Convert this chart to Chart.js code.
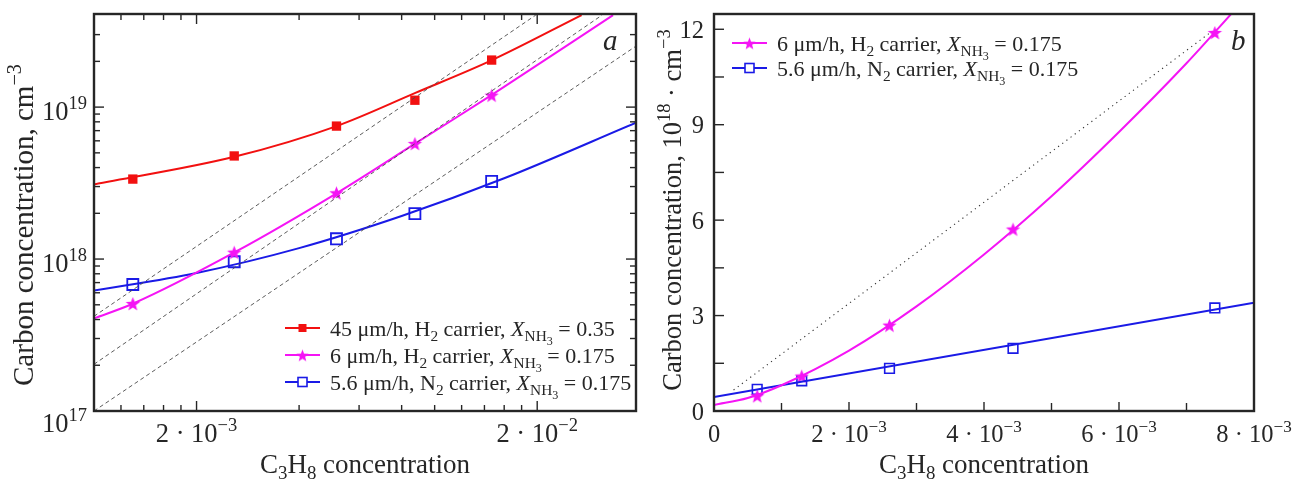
<!DOCTYPE html>
<html>
<head>
<meta charset="utf-8">
<script src="https://cdn.jsdelivr.net/npm/chart.js@4.4.1/dist/chart.umd.min.js"></script>
<style>
  html, body { margin: 0; padding: 0; background: #fff; }
  #wrap { display: flex; width: 1300px; height: 480px; }
  canvas { display: block; }
</style>
</head>
<body>
<div id="wrap">
  <canvas id="chartA" width="650" height="480"></canvas>
  <canvas id="chartB" width="650" height="480"></canvas>
</div>
<script>
// ---------- panel a (log-log) ----------
const aConc = [1.3e-3, 2.58e-3, 5.15e-3, 8.75e-3, 1.47e-2];
const aRed = [3.36e18, 4.77e18, 7.5e18, 1.11e19, 2.04e19];
const aMagenta = [5.1e17, 1.11e18, 2.73e18, 5.77e18, 1.2e19];
const aBlue = [6.8e17, 9.6e17, 1.36e18, 1.99e18, 3.24e18];

// fit curves
const aRedFitX = [1.0e-3, 2.58e-3, 5.18e-3, 8.78e-3, 1.468e-2, 2.7e-2];
const aRedFitY = [3.1e18, 4.71e18, 7.53e18, 1.24e19, 2.03e19, 4.03e19];
const aMagFitX = [1.0e-3, 1.3e-3, 2.59e-3, 5.18e-3, 8.78e-3, 1.468e-2, 3.34e-2];
const aMagFitY = [4.07e17, 5.08e17, 1.11e18, 2.73e18, 5.77e18, 1.2e19, 4.03e19];
const aBlueFitX = [1e-3, 2e-3, 4e-3, 8e-3, 1.6e-2, 3.9e-2];
const aBlueFitY = [6.2e17, 8.1e17, 1.18e18, 1.92e18, 3.4e18, 7.9e18];

// dashed guide lines
const aGuideX = [[1e-3, 1.98e-2], [1e-3, 3.1e-2], [1e-3, 3.9e-2]];
const aGuideY = [[4.2e17, 4.03e19], [2.03e17, 4.03e19], [1e17, 2.52e19]];

const aXMajor = [2e-3, 2e-2];
const aXMinor = [1.2e-3, 1.4e-3, 1.6e-3, 1.8e-3, 4e-3, 6e-3, 8e-3, 1e-2, 1.2e-2, 1.4e-2, 1.6e-2, 1.8e-2];
const aXLabels = [['2 · 10', '−3'], ['2 · 10', '−2']];
const aYMajor = [1e17, 1e18, 1e19];
const aYMinor = [2e17, 3e17, 4e17, 5e17, 6e17, 7e17, 8e17, 9e17,
                 2e18, 3e18, 4e18, 5e18, 6e18, 7e18, 8e18, 9e18, 2e19, 3e19];
const aYLabels = [['10', '17'], ['10', '18'], ['10', '19']];

// ---------- panel b (linear) ----------
const bConc = [0.64e-3, 1.30e-3, 2.60e-3, 4.43e-3, 7.42e-3];
const bMagenta = [0.48, 1.10, 2.70, 5.72, 11.9];
const bBlue = [0.68, 0.95, 1.34, 1.97, 3.24];

const bMagFitX = [0, 0.5e-3, 1e-3, 2e-3, 3e-3, 4e-3, 5e-3, 6e-3, 7e-3, 7.7e-3];
const bMagFitY = [0.19, 0.41, 0.81, 1.9, 3.29, 4.92, 6.75, 8.77, 10.93, 12.57];
const bBlueFitX = [0, 8e-3];
const bBlueFitY = [0.44, 3.4];
const bGuideX = [0.29e-3, 7.33e-3];
const bGuideY = [0.66, 11.86];

const bXMajor = [0, 2e-3, 4e-3, 6e-3, 8e-3];
const bXMinor = [1e-3, 3e-3, 5e-3, 7e-3];
const bXLabels = [['0', ''], ['2 · 10', '−3'], ['4 · 10', '−3'], ['6 · 10', '−3'], ['8 · 10', '−3']];
const bYMajor = [0, 3, 6, 9, 12];
const bYMinor = [1.5, 4.5, 7.5, 10.5];
const bYLabels = ['0', '3', '6', '9', '12'];

// ---------- styling ----------
const INK = '#262626';
const SERIF = '"Liberation Serif", "Times New Roman", Times, serif';
const RED = '#f21010';
const MAGENTA = '#f514f5';
const BLUE = '#1a1ae6';

function pts(xs, ys) {
    return xs.map((x, i) => ({ x: x, y: ys[i] }));
}

function starImage(r, color) {
    const n = Math.ceil(r * 2) + 2;
    const c = document.createElement('canvas');
    c.width = n; c.height = n;
    const g = c.getContext('2d');
    g.fillStyle = color;
    g.beginPath();
    for (let i = 0; i < 10; i++) {
        const rr = i % 2 ? r * 0.42 : r;
        const ang = -Math.PI / 2 + i * Math.PI / 5;
        g.lineTo(n / 2 + rr * Math.cos(ang), n / 2 + 0.9 + rr * Math.sin(ang));
    }
    g.closePath();
    g.fill();
    return c;
}
const starPlot = starImage(7.5, MAGENTA);
const starLegend = starImage(6.5, MAGENTA);

// rich text: [text, kind] where kind is '', 'i', 'sub', 'sup', 'sub2'
const KINDS = {
    '': [1, 0, false],
    i: [1, 0, true],
    sub: [0.7, 0.24, false],
    sup: [0.7, -0.42, false],
    sub2: [0.55, 0.45, false]
};
function setFont(ctx, kind, size) {
    const k = KINDS[kind];
    ctx.font = (k[2] ? 'italic ' : '') + (size * k[0]) + 'px ' + SERIF;
    return k;
}
function drawRich(ctx, parts, x, y, size, align) {
    let w = 0;
    parts.forEach(([t, kind]) => { setFont(ctx, kind, size); w += ctx.measureText(t).width; });
    let cx = align === 'center' ? x - w / 2 : (align === 'right' ? x - w : x);
    ctx.textAlign = 'left';
    ctx.textBaseline = 'alphabetic';
    parts.forEach(([t, kind]) => {
        const k = setFont(ctx, kind, size);
        ctx.fillText(t, cx, y + k[1] * size);
        cx += ctx.measureText(t).width;
    });
}

function drawMarker(ctx, type, x, y) {
    if (type === 'fill') {
        ctx.fillStyle = RED;
        ctx.fillRect(x - 4, y - 4, 8, 8);
    } else if (type === 'star') {
        ctx.drawImage(starLegend, x - starLegend.width / 2, y - starLegend.height / 2);
    } else {
        ctx.fillStyle = '#fff';
        ctx.fillRect(x - 4.5, y - 4.5, 9, 9);
        ctx.strokeStyle = BLUE;
        ctx.lineWidth = 1.6;
        ctx.strokeRect(x - 4.5, y - 4.5, 9, 9);
    }
}

// frame, inward ticks, labels, titles and legend
function decorations(spec) {
    return {
        id: 'decorations',
        afterDatasetsDraw(chart) {
            const { ctx, chartArea: a } = chart;
            const xs = chart.scales.x, ys = chart.scales.y;
            ctx.save();
            ctx.setLineDash([]);
            ctx.strokeStyle = INK;
            ctx.lineWidth = 1.4;
            const seg = (x1, y1, x2, y2) => {
                ctx.beginPath(); ctx.moveTo(x1, y1); ctx.lineTo(x2, y2); ctx.stroke();
            };
            spec.xTicks.forEach(([v, len]) => {
                const px = xs.getPixelForValue(v);
                seg(px, a.bottom, px, a.bottom - len);
                if (spec.mirror) seg(px, a.top, px, a.top + len);
            });
            spec.yTicks.forEach(([v, len]) => {
                const py = ys.getPixelForValue(v);
                seg(a.left, py, a.left + len, py);
                if (spec.mirror) seg(a.right, py, a.right - len, py);
            });
            ctx.lineWidth = 2.4;
            ctx.strokeRect(a.left, a.top, a.right - a.left, a.bottom - a.top);

            ctx.fillStyle = INK;
            spec.xLabels.forEach(([v, parts]) => {
                drawRich(ctx, parts, xs.getPixelForValue(v), a.bottom + 31, spec.tickSize, 'center');
            });
            spec.yLabels.forEach(([v, parts, dy]) => {
                drawRich(ctx, parts, a.left - spec.yGap, ys.getPixelForValue(v) + dy, spec.tickSize, 'right');
            });
            drawRich(ctx, spec.xTitle, (a.left + a.right) / 2, a.bottom + 62, spec.xTitleSize, 'center');
            ctx.save();
            ctx.translate(spec.yTitleX, spec.yTitleY);
            ctx.rotate(-Math.PI / 2);
            drawRich(ctx, spec.yTitle, 0, 0, spec.yTitleSize, 'center');
            ctx.restore();

            ctx.font = 'italic 29px ' + SERIF;
            ctx.fillText(spec.letter, a.right - spec.letterDx, a.top + 36);

            spec.legend.forEach((item, i) => {
                const y = spec.legendY + i * spec.legendDy;
                ctx.strokeStyle = item.color;
                ctx.lineWidth = 2;
                seg(spec.legendX, y, spec.legendX + 35, y);
                drawMarker(ctx, item.marker, spec.legendX + 17.5, y);
                ctx.fillStyle = INK;
                drawRich(ctx, item.parts, spec.legendX + 45, y + 7.5, 22, 'left');
            });
            ctx.restore();
        }
    };
}

const xTitle = [['C', ''], ['3', 'sub'], ['H', ''], ['8', 'sub'], [' concentration', '']];
function legendText(rate, gas, x) {
    return [[rate + ' μm/h, ' + gas, ''], ['2', 'sub'], [' carrier, ', ''], ['X', 'i'],
            ['NH', 'sub'], ['3', 'sub2'], [' = ' + x, '']];
}
const fitLine = (xs, ys, color) => ({
    data: pts(xs, ys), borderColor: color, borderWidth: 2, pointRadius: 0,
    cubicInterpolationMode: 'monotone', clip: 0
});

// ---------- chart a ----------
new Chart(document.getElementById('chartA'), {
    type: 'line',
    data: {
        datasets: [
            ...aGuideX.map((gx, i) => ({
                data: pts(gx, aGuideY[i]), borderColor: '#4a4a4a', borderWidth: 0.9,
                borderDash: [4, 3], pointRadius: 0, clip: 0
            })),
            fitLine(aRedFitX, aRedFitY, RED),
            fitLine(aMagFitX, aMagFitY, MAGENTA),
            fitLine(aBlueFitX, aBlueFitY, BLUE),
            { data: pts(aConc, aRed), showLine: false, pointStyle: 'rect', pointRadius: 6.6,
              backgroundColor: RED, borderColor: RED, borderWidth: 0 },
            { data: pts(aConc, aMagenta), showLine: false, pointStyle: starPlot, pointRadius: 7.5 },
            { data: pts(aConc, aBlue), showLine: false, pointStyle: 'rect', pointRadius: 7.8,
              backgroundColor: '#fff', borderColor: BLUE, borderWidth: 1.8 }
        ]
    },
    options: {
        responsive: false,
        animation: false,
        events: [],
        layout: { padding: { left: 94, right: 14, top: 14, bottom: 69 } },
        plugins: { legend: { display: false }, tooltip: { enabled: false } },
        scales: {
            x: { type: 'logarithmic', display: false, min: 1e-3, max: 3.9e-2 },
            y: { type: 'logarithmic', display: false, min: 1e17, max: 4.1e19 }
        }
    },
    plugins: [decorations({
        mirror: true,
        xTicks: aXMajor.map(v => [v, 10]).concat(aXMinor.map(v => [v, 6])),
        yTicks: aYMajor.map(v => [v, 10]).concat(aYMinor.map(v => [v, 6])),
        xLabels: aXMajor.map((v, i) => [v, [[aXLabels[i][0], ''], [aXLabels[i][1], 'sup']]]),
        yLabels: aYMajor.map((v, i) => [v, [[aYLabels[i][0], ''], [aYLabels[i][1], 'sup']], i === 0 ? 21 : 13]),
        yGap: 7,
        tickSize: 26.5,
        xTitle: xTitle,
        xTitleSize: 27,
        yTitle: [['Carbon concentration, cm', ''], ['−3', 'sup']],
        yTitleSize: 29,
        yTitleX: 33, yTitleY: 225,
        letter: 'a',
        letterDx: 33,
        legendX: 285, legendY: 328, legendDy: 27,
        legend: [
            { color: RED, marker: 'fill', parts: legendText('45', 'H', '0.35') },
            { color: MAGENTA, marker: 'star', parts: legendText('6', 'H', '0.175') },
            { color: BLUE, marker: 'open', parts: legendText('5.6', 'N', '0.175') }
        ]
    })]
});

// ---------- chart b ----------
new Chart(document.getElementById('chartB'), {
    type: 'line',
    data: {
        datasets: [
            { data: pts(bGuideX, bGuideY), borderColor: '#333', borderWidth: 1.1,
              borderDash: [1.2, 4], pointRadius: 0, clip: 0 },
            fitLine(bMagFitX, bMagFitY, MAGENTA),
            fitLine(bBlueFitX, bBlueFitY, BLUE),
            { data: pts(bConc, bMagenta), showLine: false, pointStyle: starPlot, pointRadius: 7.5 },
            { data: pts(bConc, bBlue), showLine: false, pointStyle: 'rect', pointRadius: 6.8,
              backgroundColor: '#fff', borderColor: BLUE, borderWidth: 1.6 }
        ]
    },
    options: {
        responsive: false,
        animation: false,
        events: [],
        layout: { padding: { left: 64, right: 46, top: 14, bottom: 69 } },
        plugins: { legend: { display: false }, tooltip: { enabled: false } },
        scales: {
            x: { type: 'linear', display: false, min: 0, max: 8e-3 },
            y: { type: 'linear', display: false, min: 0, max: 12.48 }
        }
    },
    plugins: [decorations({
        mirror: false,
        xTicks: bXMajor.map(v => [v, 9]).concat(bXMinor.map(v => [v, 8])),
        yTicks: bYMajor.map(v => [v, 10]).concat(bYMinor.map(v => [v, 10])),
        xLabels: bXMajor.map((v, i) => [v, [[bXLabels[i][0], ''], [bXLabels[i][1], 'sup']]]),
        yLabels: bYMajor.map((v, i) => [v, [[bYLabels[i], '']], 8.5]),
        yGap: 10,
        tickSize: 24.5,
        xTitle: xTitle,
        xTitleSize: 27,
        yTitle: [['Carbon concentration, 10', ''], ['18', 'sup'], [' · cm', ''], ['−3', 'sup']],
        yTitleSize: 26.5,
        yTitleX: 31, yTitleY: 210,
        letter: 'b',
        letterDx: 23,
        legendX: 82, legendY: 43, legendDy: 25,
        legend: [
            { color: MAGENTA, marker: 'star', parts: legendText('6', 'H', '0.175') },
            { color: BLUE, marker: 'open', parts: legendText('5.6', 'N', '0.175') }
        ]
    })]
});
</script>
</body>
</html>
